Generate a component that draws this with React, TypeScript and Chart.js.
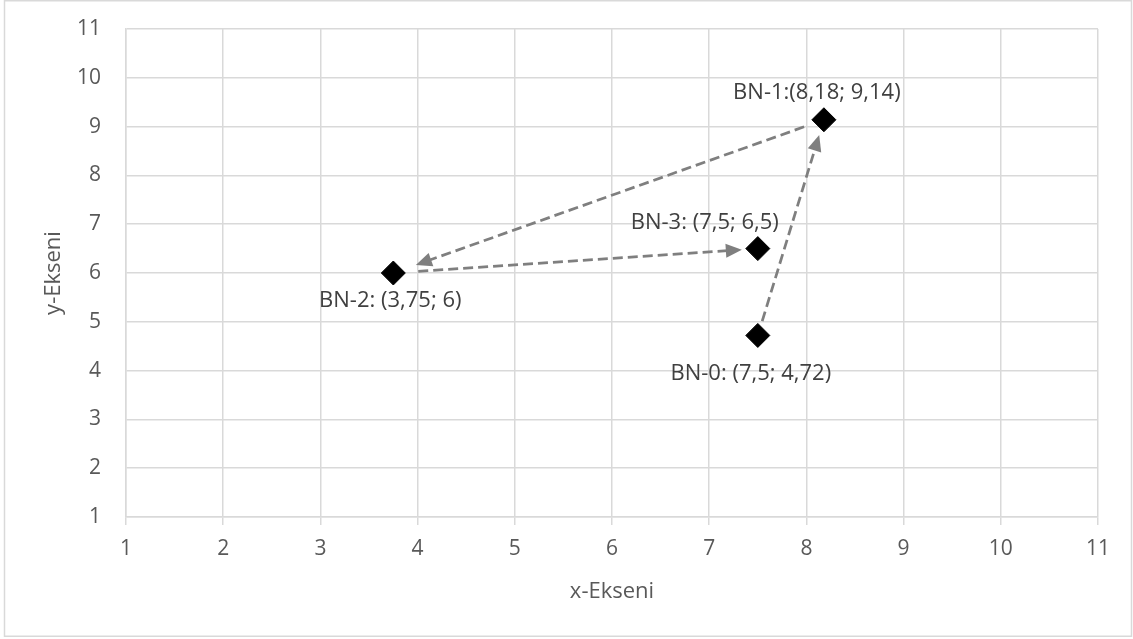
import React, { useEffect, useRef } from "react";
import { Chart, registerables } from "chart.js";

Chart.register(...registerables);

// ---- data ----
const pointNames = ["BN-0", "BN-1", "BN-2", "BN-3"];
const xValues = [7.5, 8.18, 3.75, 7.5];
const yValues = [4.72, 9.14, 6, 6.5];
const pointLabels = [
  "BN-0: (7,5; 4,72)",
  "BN-1:(8,18; 9,14)",
  "BN-2: (3,75; 6)",
  "BN-3: (7,5; 6,5)",
];
const arrowFrom = [0, 1, 2];
const arrowTo = [1, 2, 3];
const axisMin = 1;
const axisMax = 11;
const axisStep = 1;
const xTitle = "x-Ekseni";
const yTitle = "y-Ekseni";

// ---- style ----
const FONT = "'Open Sans', sans-serif";
const labelOffsets = [
  [-7, 38],
  [-7, -27],
  [-3, 28],
  [-53, -26],
];
const arrowTrims = [
  [15, 16],
  [21, 24],
  [25, 16],
];

const overlayPlugin = {
  id: "overlay",
  beforeDraw(chart: any) {
    const ctx = chart.ctx;
    ctx.save();
    ctx.fillStyle = "#ffffff";
    ctx.fillRect(0, 0, chart.width, chart.height);
    ctx.strokeStyle = "#d9d9d9";
    ctx.lineWidth = 1.5;
    ctx.strokeRect(4.5, 0.75, chart.width - 6, chart.height - 3.5);
    ctx.restore();
  },
  afterDatasetsDraw(chart: any) {
    const ctx = chart.ctx;
    const xs = chart.scales.x;
    const ys = chart.scales.y;
    ctx.save();
    // arrows
    for (let i = 0; i < arrowFrom.length; i++) {
      const a = arrowFrom[i];
      const b = arrowTo[i];
      const x1 = xs.getPixelForValue(xValues[a]);
      const y1 = ys.getPixelForValue(yValues[a]);
      const x2 = xs.getPixelForValue(xValues[b]);
      const y2 = ys.getPixelForValue(yValues[b]);
      const dx = x2 - x1;
      const dy = y2 - y1;
      const len = Math.hypot(dx, dy);
      const ux = dx / len;
      const uy = dy / len;
      const [ts, te] = arrowTrims[i];
      const sx = x1 + ux * ts;
      const sy = y1 + uy * ts;
      const tx = x2 - ux * te;
      const ty = y2 - uy * te;
      const headLen = 16;
      const headHalf = 7;
      const bx = tx - ux * headLen;
      const by = ty - uy * headLen;
      ctx.strokeStyle = "#7f7f7f";
      ctx.lineWidth = 2.75;
      ctx.setLineDash([10, 5]);
      ctx.beginPath();
      ctx.moveTo(sx, sy);
      ctx.lineTo(bx + ux * 2, by + uy * 2);
      ctx.stroke();
      ctx.setLineDash([]);
      ctx.fillStyle = "#7f7f7f";
      ctx.beginPath();
      ctx.moveTo(tx, ty);
      ctx.lineTo(bx - uy * headHalf, by + ux * headHalf);
      ctx.lineTo(bx + uy * headHalf, by - ux * headHalf);
      ctx.closePath();
      ctx.fill();
    }
    // labels
    ctx.fillStyle = "#404040";
    ctx.font = `22px ${FONT}`;
    ctx.textAlign = "center";
    ctx.textBaseline = "middle";
    for (let i = 0; i < pointLabels.length; i++) {
      const px = xs.getPixelForValue(xValues[i]);
      const py = ys.getPixelForValue(yValues[i]);
      ctx.fillText(pointLabels[i], px + labelOffsets[i][0], py + labelOffsets[i][1]);
    }
    ctx.restore();
  },
};

export default function App() {
  const ref = useRef<HTMLCanvasElement | null>(null);
  useEffect(() => {
    if (!ref.current) return;
    const chart = new Chart(ref.current, {
      type: "scatter",
      data: {
        datasets: [
          {
            label: "BN",
            data: xValues.map((x, i) => ({ x, y: yValues[i], name: pointNames[i] })),
            pointStyle: "rectRot",
            pointRadius: 12,
            pointHoverRadius: 12,
            backgroundColor: "#000000",
            borderColor: "#000000",
            borderWidth: 1,
          } as any,
        ],
      },
      options: {
        animation: false,
        responsive: false,
        maintainAspectRatio: false,
        events: [],
        layout: { padding: { top: 29, right: 35, left: 0, bottom: 0 } },
        plugins: {
          legend: { display: false },
          tooltip: { enabled: false },
        },
        scales: {
          x: {
            type: "linear",
            min: axisMin,
            max: axisMax,
            ticks: {
              stepSize: axisStep,
              color: "#595959",
              font: { family: FONT, size: 21 },
              padding: 11,
              maxRotation: 0,
            },
            grid: { color: "#d9d9d9", lineWidth: 1.5, tickLength: 8, drawTicks: true },
            border: { color: "#d9d9d9", width: 1.5 },
            title: {
              display: true,
              text: xTitle,
              color: "#595959",
              font: { family: FONT, size: 22 },
              padding: { top: 0, bottom: 34 },
            },
            afterFit(scale: any) {
              scale.height = 122;
            },
          },
          y: {
            type: "linear",
            min: axisMin,
            max: axisMax,
            ticks: {
              stepSize: axisStep,
              color: "#595959",
              font: { family: FONT, size: 21 },
              padding: 25,
            },
            grid: { color: "#d9d9d9", lineWidth: 1.5, drawTicks: false },
            border: { color: "#d9d9d9", width: 1.5 },
            title: {
              display: true,
              text: yTitle,
              color: "#595959",
              font: { family: FONT, size: 22 },
              padding: { top: 41, bottom: 0 },
            },
            afterFit(scale: any) {
              scale.width = 126;
              scale.paddingTop = 13;
              scale.paddingBottom = 13;
            },
          },
        },
      },
      plugins: [overlayPlugin],
    });
    return () => chart.destroy();
  }, []);
  return (
    <div style={{ position: "absolute", left: 0, top: 0, width: 1133, height: 639 }}>
      <canvas ref={ref} width={1133} height={639} style={{ display: "block", width: 1133, height: 639 }} />
    </div>
  );
}
